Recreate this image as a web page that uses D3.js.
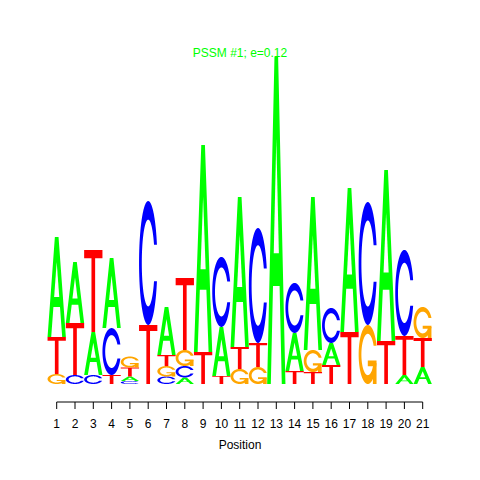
<!DOCTYPE html>
<html><head><meta charset="utf-8">
<script src="https://cdn.jsdelivr.net/npm/d3@7"></script>
<style>body{margin:0;background:#fff}</style>
</head><body>
<svg id="c" width="480" height="480"></svg>
<script>
// Data (information content in bits per letter per position)
const positions = d3.range(1, 22);
const heightA = [0.612,0.373,0.263,0.428,0.028,0,0.294,0.040,1.266,0.300,0.917,0,2.0,0.232,0.936,0.135,0.881,0,1.046,0.055,0.104];
const heightC = [0,0.055,0.055,0.287,0.018,0.758,0.046,0.070,0,0.428,0,0.703,0,0.306,0,0.214,0,0.752,0,0.526,0];
const heightG = [0.061,0,0,0,0.067,0,0.064,0.098,0,0,0.092,0.104,0,0,0.135,0,0,0.361,0,0,0.190];
const heightT = [0.226,0.318,0.502,0.055,0.055,0.361,0.067,0.440,0.196,0.049,0.135,0.147,0,0.080,0.073,0.116,0.318,0,0.263,0.239,0.177];
const letterNames = ["A","C","G","T"];
const titleText = "PSSM #1; e=0.12";
const xLabel = "Position";

const colors = {A:"#00FF00", C:"#0000FF", G:"#FFA500", T:"#FF0000"};
const heights = {A:heightA, C:heightC, G:heightG, T:heightT};

const svg = d3.select("#c");
svg.append("rect").attr("width",480).attr("height",480).attr("fill","#fff");

const x = d3.scaleLinear().domain([1,21]).range([56.7,422.7]);
const y = d3.scaleLinear().domain([0,2]).range([384,57]);
const colW = x(2) - x(1);

// glyphs in unit square (seqLogo style)
function glyphA(){
  const ox=[0,4,6,10,8,6.8,3.2,2,0].map(v=>v/10), oy=[0,10,10,0,0,3,3,0,0].map(v=>v/10);
  const ix=[3.6,5,6.4,3.6].map(v=>v/10), iy=[4,7.5,4,4].map(v=>v/10);
  return [ox.map((v,i)=>[v,oy[i]]), ix.map((v,i)=>[v,iy[i]])];
}
function glyphT(){
  const ox=[0,10,10,6,6,4,4,0].map(v=>v/10), oy=[10,10,9,9,0,0,9,9].map(v=>v/10);
  return [ox.map((v,i)=>[v,oy[i]])];
}
function cShape(){
  const n=100;
  const a1=d3.range(n).map(i=>0.3+Math.PI/2 + (Math.PI-(0.3+Math.PI/2))*i/(n-1));
  const a2=d3.range(n).map(i=>Math.PI + (0.5*Math.PI)*i/(n-1));
  const xl1=a1.map(a=>0.5+0.5*Math.sin(a)), yl1=a1.map(a=>0.5+0.5*Math.cos(a));
  const xl2=a2.map(a=>0.5+0.5*Math.sin(a)), yl2=a2.map(a=>0.5+0.5*Math.cos(a));
  const xl=xl1.concat(xl2), yl=yl1.concat(yl2);
  let X=xl.concat(xl.slice().reverse());
  let Y=yl.concat(yl.slice().reverse().map(v=>1-v));
  const maxY=d3.max(yl1);
  let xi1=a1.map(a=>0.5+0.35*Math.sin(a)), yi1=a1.map(a=>0.5+0.35*Math.cos(a));
  const keep=yi1.map(v=>v<=maxY);
  xi1=xi1.filter((v,i)=>keep[i]); yi1=yi1.filter((v,i)=>keep[i]);
  yi1[0]=maxY;
  const xi2=a2.map(a=>0.5+0.35*Math.sin(a)), yi2=a2.map(a=>0.5+0.35*Math.cos(a));
  const xi=xi1.concat(xi2), yi=yi1.concat(yi2);
  const X1=xi.concat(xi.slice().reverse());
  const Y1=yi.concat(yi.slice().reverse().map(v=>1-v));
  X=X.concat(X1.slice().reverse()); Y=Y.concat(Y1.slice().reverse());
  return {pts:X.map((v,i)=>[v,Y[i]]), r1:d3.max(xl1)};
}
function glyphC(){ return [cShape().pts]; }
function glyphG(){
  const c=cShape(); const r1=c.r1, h1=0.4;
  const xa=[r1,0.5,0.5,r1-0.2,r1-0.2,r1,r1], ya=[h1,h1,h1-0.1,h1-0.1,0,0,h1];
  return [c.pts, xa.map((v,i)=>[v,ya[i]])];
}
const glyphs = {A:glyphA(), C:glyphC(), G:glyphG(), T:glyphT()};

const g = svg.append("g");
positions.forEach((p, j) => {
  const stack = letterNames.map(L => ({L, h: heights[L][j]})).filter(d => d.h > 0)
    .sort((a,b) => a.h - b.h);
  let base = 0;
  stack.forEach(d => {
    const x0 = x(p) - colW/2;
    const yb = y(base), yt = y(base + d.h);
    const ht = yb - yt;
    const polys = glyphs[d.L];
    if (d.L === "A" || d.L === "G") {
      // draw each polygon; A hole white
      polys.forEach((poly, k) => {
        const dstr = "M" + poly.map(pt => (x0 + pt[0]*colW).toFixed(2) + "," + (yb - pt[1]*ht).toFixed(2)).join("L") + "Z";
        g.append("path").attr("d", dstr)
          .attr("fill", (d.L === "A" && k === 1) ? "#fff" : colors[d.L]);
      });
    } else {
      polys.forEach(poly => {
        const dstr = "M" + poly.map(pt => (x0 + pt[0]*colW).toFixed(2) + "," + (yb - pt[1]*ht).toFixed(2)).join("L") + "Z";
        g.append("path").attr("d", dstr).attr("fill", colors[d.L]);
      });
    }
    base += d.h;
  });
});

// axis
const axis = d3.axisBottom(x).tickValues(positions).tickSize(7).tickSizeOuter(0).tickPadding(10).offset(0);
const ax = svg.append("g").attr("transform","translate(0,402)").call(axis);
ax.selectAll("path,line").attr("stroke","#000");
ax.selectAll("text").attr("font-family","Liberation Sans, Arial, sans-serif").attr("font-size",12).attr("fill","#000");

svg.append("text").attr("x",240).attr("y",449).attr("text-anchor","middle")
  .attr("font-family","Liberation Sans, Arial, sans-serif").attr("font-size",12).text(xLabel);
svg.append("text").attr("x",240).attr("y",57).attr("text-anchor","middle")
  .attr("font-family","Liberation Sans, Arial, sans-serif").attr("font-size",12)
  .attr("fill","#00FF00").text(titleText);
</script>
</body></html>
